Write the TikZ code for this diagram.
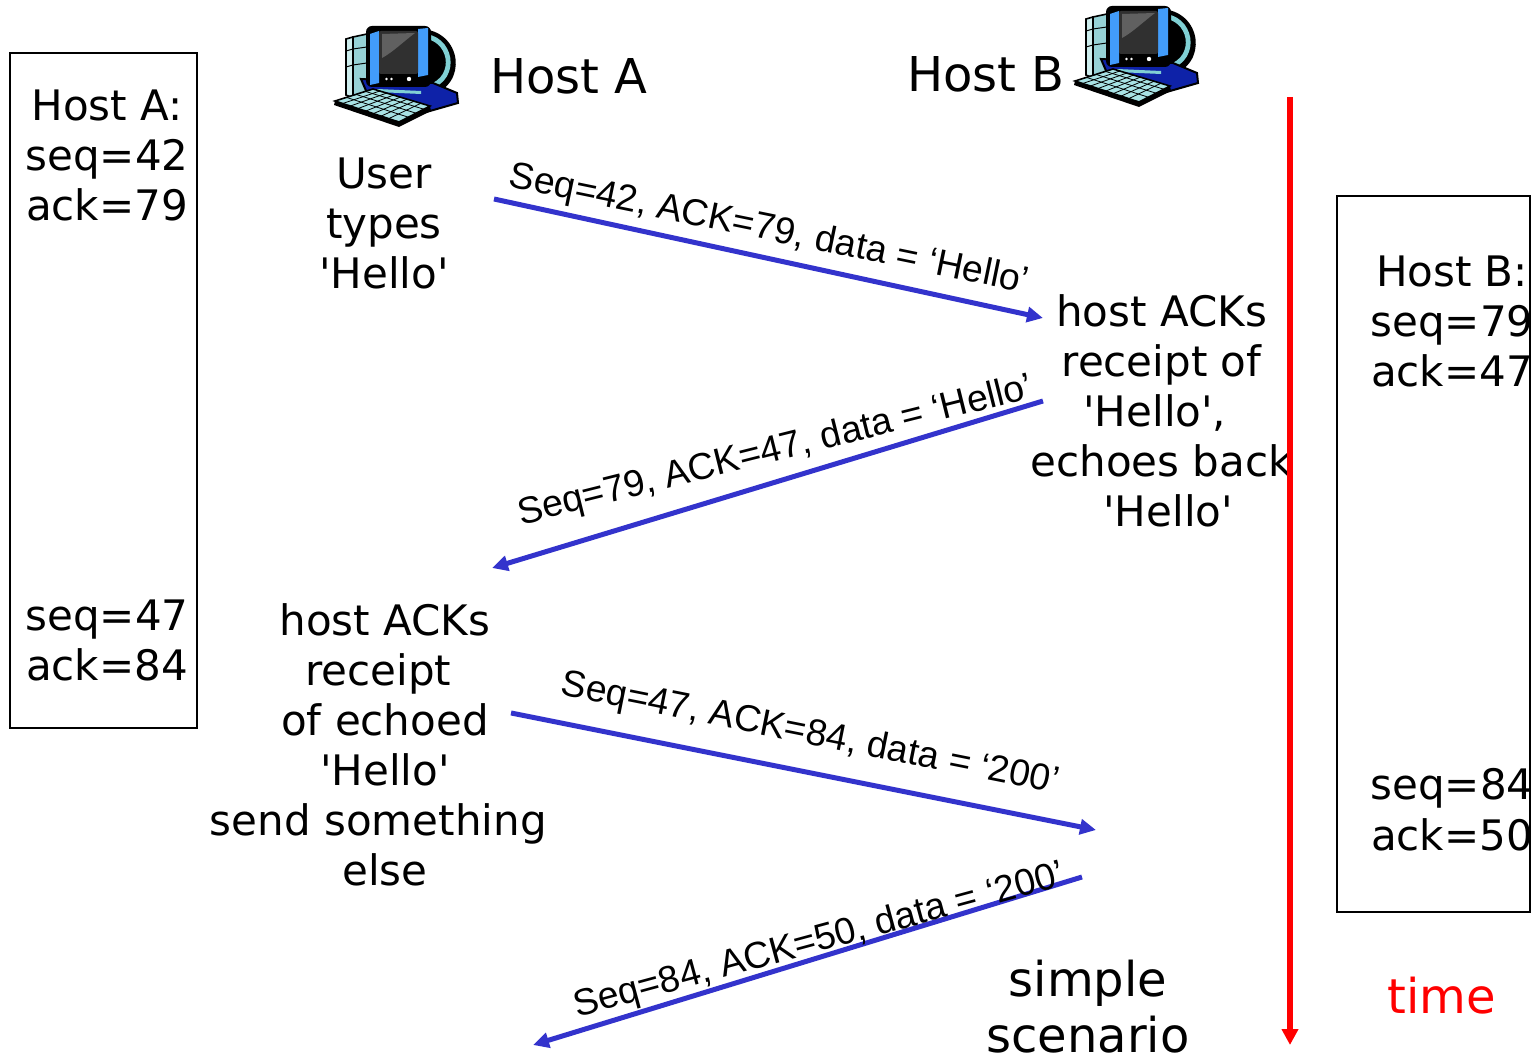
\documentclass[tikz,border=0pt]{standalone}
\usepackage{fontspec}
\setmainfont{DejaVu Sans}
\newfontfamily\labelfont{Liberation Sans}
\usetikzlibrary{arrows.meta,calc}

\definecolor{msgblue}{RGB}{51,51,204}
\definecolor{timered}{RGB}{255,0,0}
\definecolor{bezelblue}{RGB}{66,156,250}
\definecolor{baseblue}{RGB}{14,34,168}
\definecolor{towerfront}{RGB}{206,238,238}
\definecolor{towerside}{RGB}{150,210,214}
\definecolor{backcyan}{RGB}{128,208,212}
\definecolor{keycyan}{RGB}{168,226,228}
\definecolor{screengray}{RGB}{48,48,48}
\definecolor{screenshine}{RGB}{96,96,96}

\newcommand\sq{\textquotesingle}

\tikzset{
  titletext/.style={font=\fontsize{24}{28}\selectfont, inner sep=0pt, anchor=base west},
  bigtext/.style={font=\fontsize{24}{28}\selectfont, inner sep=0pt, align=center, anchor=base},
  bodytext/.style={font=\fontsize{21}{25}\selectfont, inner sep=0pt, align=center, anchor=base},
  msglabel/.style={font=\labelfont\fontsize{18.7}{22}\selectfont, inner sep=0pt, anchor=base},
  msg/.style={draw=msgblue, line width=2.5pt, -{Triangle[length=8pt,width=7.5pt]}},
  timeline/.style={draw=timered, line width=3pt, -{Triangle[length=8pt,width=8pt]}},
  statebox/.style={draw=black, line width=1pt, inner sep=0pt},
  computer/.pic={
    % tower
    \filldraw[fill=towerside, line width=0.8pt] (20,12) -- (34,9) -- (34,70) -- (20,73) -- cycle;
    \filldraw[fill=towerfront, line width=0.8pt] (13,14) -- (20,12) -- (20,73) -- (13,70) -- cycle;
    \draw[line width=0.5pt] (13,26) -- (20,24) -- (34,22) (13,42) -- (20,40) -- (34,38);
    % back of the monitor
    \fill[black] (86,4) .. controls (130,4) and (136,62) .. (96,70) -- (86,62) -- cycle;
    \draw[backcyan, line width=2.4pt] (88,11) .. controls (119,11) and (126,53) .. (96,62);
    % base
    \filldraw[fill=baseblue, line width=1pt] (28,54) -- (100,58) -- (124,68) -- (125,78) -- (90,88) -- (40,82) -- cycle;
    \fill[backcyan] (44,64) -- (88,66) -- (88,69) -- (44,67) -- cycle;
    % monitor front
    \fill[black, rounded corners=3pt] (33,1) rectangle (98,62);
    \fill[bezelblue] (37,9) -- (46,6) -- (46,58) -- (37,60) -- cycle;
    \fill[bezelblue] (85,4) -- (95,3) -- (95,50) -- (85,52) -- cycle;
    \fill[screengray, rounded corners=1pt] (46,6) rectangle (85,49);
    \fill[screenshine] (49,9) -- (82,8) .. controls (70,17) and (60,27) .. (49,33) -- cycle;
    \fill[white] (53.5,54) circle (1.3) (58.5,54) circle (1.3) (76,54) circle (2.2);
    % keyboard
    \fill[black] (2,76) -- (66,97) -- (97,81) -- (98,86) -- (66,102) -- (1,80) -- cycle;
    \filldraw[fill=keycyan, line width=0.8pt] (2,76) -- (40,64) -- (97,81) -- (66,97) -- cycle;
    \foreach \t in {0.3,0.55,0.8}
      \draw[line width=0.4pt] ($(2,76)!\t!(40,64)$) -- ($(66,97)!\t!(97,81)$);
    \foreach \s in {0.12,0.24,...,0.9}
      \draw[line width=0.4pt] ($(2,76)!\s!(66,97)$) -- ($(40,64)!\s!(97,81)$);
  }
}

\begin{document}
\begin{tikzpicture}[x=0.5pt, y=-0.5pt]
  \useasboundingbox (0,0) rectangle (1538,1058);

  % hosts
  \pic (pcA) at (333,25) {computer};
  \pic (pcB) at (1073,5) {computer};
  \node[titletext] (titleA) at (490,94) {Host A};
  \node[titletext] (titleB) at (907,92) {Host B};

  % state boxes (text nodes sit on the baseline of their last line)
  \node[statebox, minimum width=93.5pt, minimum height=337.5pt] (boxA) at (103.5,390.5) {};
  \node[statebox, minimum width=96.5pt, minimum height=358pt] (boxB) at (1433.5,554) {};
  \node[bodytext] (stA1) at (107,221) {Host A:\\seq=42\\ack=79};
  \node[bodytext] (stA2) at (107,681) {seq=47\\ack=84};
  \node[bodytext] (stB1) at (1452,387) {Host B:\\seq=79\\ack=47};
  \node[bodytext] (stB2) at (1452,850) {seq=84\\ack=50};

  % event descriptions
  \node[bodytext] (evUser) at (384,289) {User\\types\\\sq Hello\sq};
  \node[bodytext] (evEcho) at (1161.5,527) {host ACKs\\receipt of\\\mbox{\sq Hello\sq, }\\echoes back\\\mbox{ \sq Hello\sq}};
  \node[bodytext] (evAck) at (385,885) {host ACKs\\\mbox{receipt }\\of echoed\\\sq Hello\sq\\\mbox{send something }\\else};
  \node[bigtext] (scen) at (1088,1052) {simple\\scenario};
  \node[bigtext, text=timered] (timelbl) at (1442,1013) {time};

  % time axis
  \coordinate (tstart) at (1290,97);
  \coordinate (tend) at (1290,1045);
  \draw[timeline] (tstart) -- (tend);

  % segments
  \coordinate (m1s) at (494,199);  \coordinate (m1e) at (1043,318);
  \coordinate (m2s) at (1043,401); \coordinate (m2e) at (492,568);
  \coordinate (m3s) at (511,713);  \coordinate (m3e) at (1096,830);
  \coordinate (m4s) at (1082,877); \coordinate (m4e) at (533,1045);

  \draw[msg] (m1s) -- (m1e);
  \draw[msg] (m2s) -- (m2e);
  \draw[msg] (m3s) -- (m3e);
  \draw[msg] (m4s) -- (m4e);

  % segment labels
  \node[msglabel, rotate=-11.6] (l1) at (767,240) {Seq=42, ACK=79, data = ‘Hello’};
  \node[msglabel, rotate=14.0]  (l2) at (778,461) {Seq=79, ACK=47, data = ‘Hello’};
  \node[msglabel, rotate=-11.3] (l3) at (808,744) {Seq=47, ACK=84, data = ‘200’};
  \node[msglabel, rotate=15.2]  (l4) at (822,951) {Seq=84, ACK=50, data = ‘200’};
\end{tikzpicture}
\end{document}
